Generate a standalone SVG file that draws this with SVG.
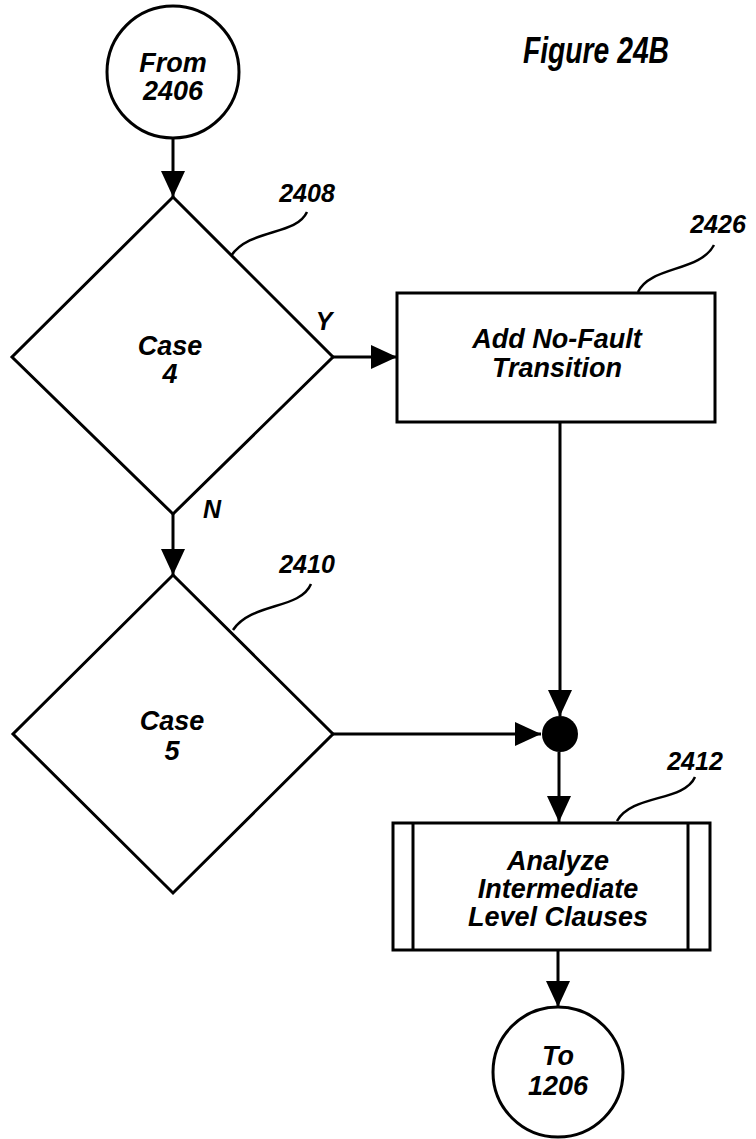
<svg xmlns="http://www.w3.org/2000/svg" width="756" height="1139" viewBox="0 0 756 1139">
<style>
.s{fill:none;stroke:#000;stroke-width:3}
.sh{fill:#fff;stroke:#000;stroke-width:3}
.t{font-family:"Liberation Sans",Arial,sans-serif;font-weight:bold;font-style:italic;font-size:27px;fill:#000;text-anchor:middle}
.l{font-family:"Liberation Sans",Arial,sans-serif;font-weight:bold;font-style:italic;font-size:25px;fill:#000;text-anchor:middle}
.ld{fill:none;stroke:#000;stroke-width:2.5}
</style>
<defs>
<marker id="ah" viewBox="0 0 26 24" refX="26" refY="12" markerWidth="26" markerHeight="24" markerUnits="userSpaceOnUse" orient="auto">
<path d="M0,0 L26,12 L0,24 z" fill="#000"/>
</marker>
</defs>
<rect width="756" height="1139" fill="#fff"/>
<text x="596" y="63" font-family="Liberation Sans, Arial, sans-serif" font-weight="bold" font-style="italic" font-size="37" text-anchor="middle" textLength="146" lengthAdjust="spacingAndGlyphs">Figure 24B</text>
<g id="connectors">
<line class="s" x1="173" y1="138" x2="173" y2="197" marker-end="url(#ah)"/>
<line class="s" x1="333" y1="357" x2="397" y2="357" marker-end="url(#ah)"/>
<line class="s" x1="173" y1="514" x2="173" y2="575" marker-end="url(#ah)"/>
<line class="s" x1="560" y1="422" x2="560" y2="716" marker-end="url(#ah)"/>
<line class="s" x1="333" y1="734" x2="541" y2="734" marker-end="url(#ah)"/>
<line class="s" x1="559" y1="752" x2="559" y2="822" marker-end="url(#ah)"/>
<line class="s" x1="558" y1="950" x2="558" y2="1007" marker-end="url(#ah)"/>
<text class="l" x="324" y="330">Y</text>
<text class="l" x="212" y="518">N</text>
</g>
<g id="from2406">
<circle class="sh" cx="173" cy="72" r="66"/>
<text class="t" x="173" y="72">From</text>
<text class="t" x="173" y="100">2406</text>
</g>
<g id="n2408">
<polygon class="sh" points="173,197 333,357 173,514 12,357"/>
<text class="t" x="170" y="355">Case</text>
<text class="t" x="170" y="383">4</text>
<path class="ld" d="M307,212 C296,236 250,228 231,256"/>
<text class="l" x="307" y="202">2408</text>
</g>
<g id="n2426">
<rect class="sh" x="397" y="293" width="318" height="129"/>
<text class="t" x="557" y="348">Add No-Fault</text>
<text class="t" x="557" y="377">Transition</text>
<path class="ld" d="M714,245 C700,272 650,266 638,292"/>
<text class="l" x="718" y="233">2426</text>
</g>
<g id="n2410">
<polygon class="sh" points="173,575 333,734 173,893 13,734"/>
<text class="t" x="172" y="730">Case</text>
<text class="t" x="172" y="760">5</text>
<path class="ld" d="M311,584 C300,610 252,602 233,630"/>
<text class="l" x="307" y="573">2410</text>
</g>
<g id="junction">
<circle cx="560" cy="734" r="18" fill="#000"/>
</g>
<g id="n2412">
<rect class="sh" x="393" y="823" width="317" height="127"/>
<line class="s" x1="413" y1="823" x2="413" y2="950"/>
<line class="s" x1="688" y1="823" x2="688" y2="950"/>
<text class="t" x="558" y="870">Analyze</text>
<text class="t" x="558" y="898">Intermediate</text>
<text class="t" x="558" y="926">Level Clauses</text>
<path class="ld" d="M695,777 C684,802 632,794 617,821"/>
<text class="l" x="695" y="770">2412</text>
</g>
<g id="to1206">
<circle class="sh" cx="558" cy="1072" r="65"/>
<text class="t" x="558" y="1065">To</text>
<text class="t" x="558" y="1095">1206</text>
</g>
</svg>
